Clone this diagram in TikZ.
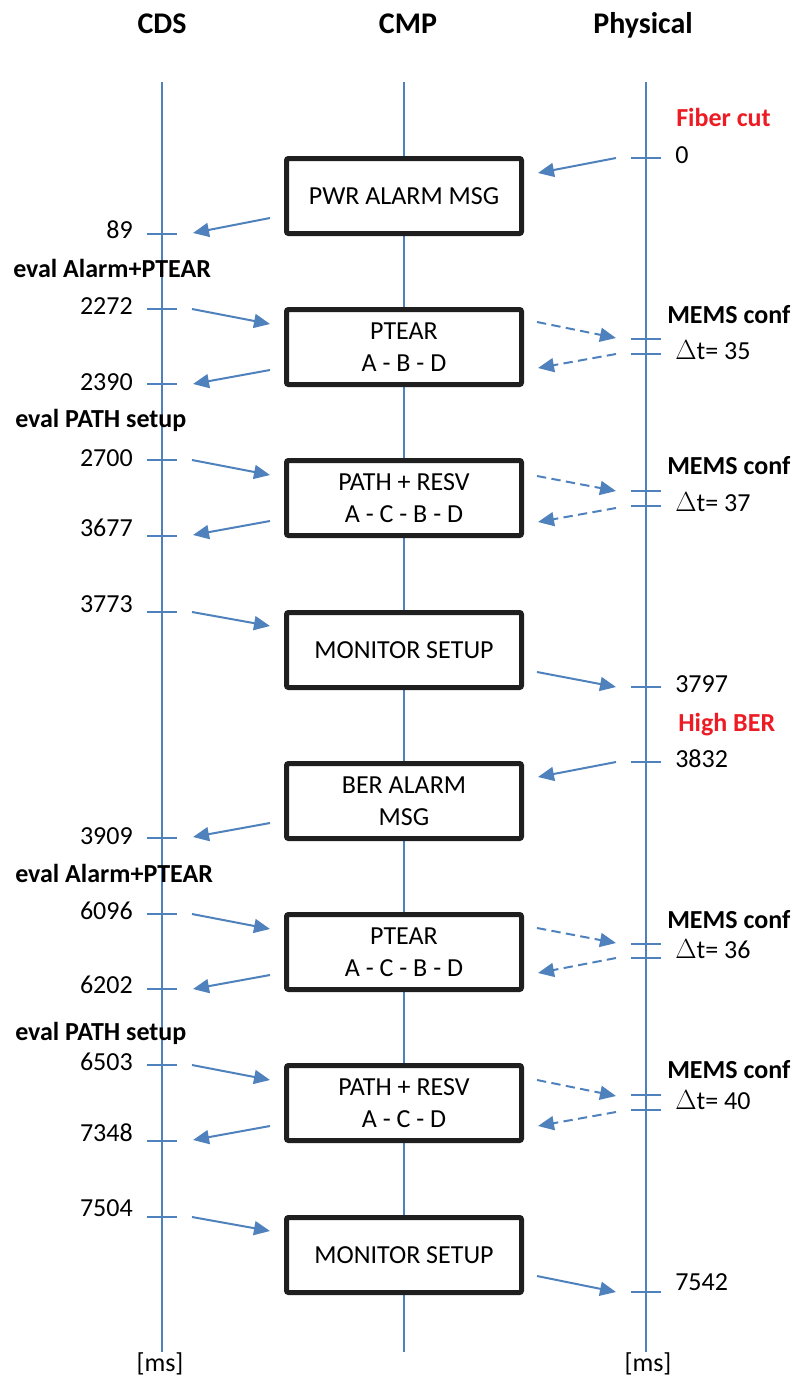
\documentclass[tikz,border=0pt]{standalone}
\usepackage{fontspec}
\setmainfont{Carlito}
\usetikzlibrary{arrows.meta}
\definecolor{lifeblue}{HTML}{4F81BD}
\definecolor{alertred}{HTML}{ED1C24}
\newcommand\dgboxfont{\fontsize{19.5}{24}\selectfont}
\newcommand\dgnumfont{\fontsize{19.5}{24}\selectfont}
\newcommand\dglabfont{\fontsize{19.5}{24}\selectfont\bfseries}
\newcommand\dgheadfont{\fontsize{22.5}{27}\selectfont\bfseries}
\newcommand\dgmsg[4]{\coordinate (#2-s) at (#3); \coordinate (#2-e) at (#4); \draw[#1] (#2-s) -- (#2-e);}
\tikzset{
  lifeline/.style={draw=lifeblue, line width=1.5pt},
  tickmark/.style={draw=lifeblue, line width=1.5pt},
  msg/.style={draw=lifeblue, line width=1.5pt, -{Triangle[length=12pt,width=10.5pt,fill=lifeblue]}},
  msgdash/.style={msg, dash pattern=on 7pt off 4pt},
  procbox/.style={draw=black!88, line width=3.75pt, fill=white, rounded corners=1.5pt,
    minimum width=176.25pt, minimum height=56.25pt, inner sep=0pt, align=center, font=\dgboxfont},
  header/.style={font=\dgheadfont, anchor=base, inner sep=0pt},
  numl/.style={font=\dgnumfont, inner sep=0pt, anchor=base east},
  numr/.style={font=\dgnumfont, inner sep=0pt, anchor=base west},
  boldlab/.style={font=\dglabfont, inner sep=0pt, anchor=base west},
  alertlab/.style={boldlab, text=alertred},
}
\begin{document}
\begin{tikzpicture}[x=0.75pt, y=-0.75pt]
\useasboundingbox (0,0) rectangle (798,1378);
% headers
\node[header] (hcds) at (162,33) {CDS};
\node[header] (hcmp) at (408,33) {CMP};
\node[header] (hphy) at (643,33) {Physical};
% lifelines
\coordinate (cdsTop) at (162,82); \coordinate (cdsBot) at (162,1352);
\coordinate (cmpTop) at (404,82); \coordinate (cmpBot) at (404,1352);
\coordinate (phyTop) at (646,82); \coordinate (phyBot) at (646,1352);
\draw[lifeline] (cdsTop) -- (cdsBot);
\draw[lifeline] (cmpTop) -- (cmpBot);
\draw[lifeline] (phyTop) -- (phyBot);
% ticks
\foreach \y in {234,309,384,460,536,612,838,914,989,1065,1141,1217}
  \draw[tickmark] (147,\y) -- (177,\y);
\foreach \y in {158,339,354,491,506,687,762,944,958,1095,1110,1292}
  \draw[tickmark] (631,\y) -- (661,\y);
% boxes
\node[procbox] (b1) at (404,196) {PWR ALARM MSG};
\node[procbox] (b2) at (404,347) {PTEAR\\A - B - D};
\node[procbox] (b3) at (404,498) {PATH + RESV\\A - C - B - D};
\node[procbox] (b4) at (404,650) {MONITOR SETUP};
\node[procbox] (b5) at (404,801) {BER ALARM\\MSG};
\node[procbox] (b6) at (404,952) {PTEAR\\A - C - B - D};
\node[procbox] (b7) at (404,1103) {PATH + RESV\\A - C - D};
\node[procbox] (b8) at (404,1255) {MONITOR SETUP};
% CDS labels
\node[numl] (t89) at (133,238) {89};
\node[numl] (t2272) at (133,314) {2272};
\node[numl] (t2390) at (133,390) {2390};
\node[numl] (t2700) at (133,466) {2700};
\node[numl] (t3677) at (133,536) {3677};
\node[numl] (t3773) at (133,612) {3773};
\node[numl] (t3909) at (133,844) {3909};
\node[numl] (t6096) at (133,919) {6096};
\node[numl] (t6202) at (133,993) {6202};
\node[numl] (t6503) at (133,1070) {6503};
\node[numl] (t7348) at (133,1141) {7348};
\node[numl] (t7504) at (133,1216) {7504};
\node[boldlab] (ev1) at (13,277) {eval Alarm+PTEAR};
\node[boldlab] (ev2) at (15,427) {eval PATH setup};
\node[boldlab] (ev3) at (15,882) {eval Alarm+PTEAR};
\node[boldlab] (ev4) at (15,1040) {eval PATH setup};
% Physical labels
\node[alertlab] (fc) at (676,126) {Fiber cut};
\node[numr] (p0) at (675,163) {0};
\node[boldlab] (m1) at (667,323) {MEMS conf};
\node[numr] (d1) at (675,359) {$\Delta$t= 35};
\node[boldlab] (m2) at (667,474) {MEMS conf};
\node[numr] (d2) at (675,511) {$\Delta$t= 37};
\node[numr] (p3797) at (675,692) {3797};
\node[alertlab] (hb) at (678,731) {High BER};
\node[numr] (p3832) at (675,767) {3832};
\node[boldlab] (m3) at (667,928) {MEMS conf};
\node[numr] (d3) at (675,958) {$\Delta$t= 36};
\node[boldlab] (m4) at (667,1078) {MEMS conf};
\node[numr] (d4) at (675,1109) {$\Delta$t= 40};
\node[numr] (p7542) at (675,1290) {7542};
% [ms]
\node[font=\dgnumfont, anchor=base, inner sep=0pt] (ms1) at (160,1371) {[ms]};
\node[font=\dgnumfont, anchor=base, inner sep=0pt] (ms2) at (648,1371) {[ms]};
% messages
\dgmsg{msg}{a1}{616,158}{538,173}
\dgmsg{msg}{a2}{270,218}{193,233}
\dgmsg{msg}{a3}{192,309}{270,324}
\dgmsg{msg}{a4}{270,370}{193,384}
\dgmsg{msgdash}{a5}{537,322}{616,338}
\dgmsg{msgdash}{a6}{616,354}{538,368}
\dgmsg{msg}{a7}{192,460}{270,475}
\dgmsg{msg}{a8}{270,521}{193,535}
\dgmsg{msgdash}{a9}{537,476}{616,491}
\dgmsg{msgdash}{a10}{616,508}{538,522}
\dgmsg{msg}{a11}{192,612}{270,626}
\dgmsg{msg}{a12}{537,672}{616,687}
\dgmsg{msg}{a13}{616,762}{538,777}
\dgmsg{msg}{a14}{270,823}{193,837}
\dgmsg{msg}{a15}{192,914}{270,929}
\dgmsg{msg}{a16}{270,975}{193,989}
\dgmsg{msgdash}{a17}{537,928}{616,943}
\dgmsg{msgdash}{a18}{616,958}{538,973}
\dgmsg{msg}{a19}{192,1065}{270,1080}
\dgmsg{msg}{a20}{270,1126}{193,1140}
\dgmsg{msgdash}{a21}{537,1080}{616,1096}
\dgmsg{msgdash}{a22}{616,1112}{538,1126}
\dgmsg{msg}{a23}{192,1217}{270,1231}
\dgmsg{msg}{a24}{537,1276}{616,1292}
\end{tikzpicture}
\end{document}
